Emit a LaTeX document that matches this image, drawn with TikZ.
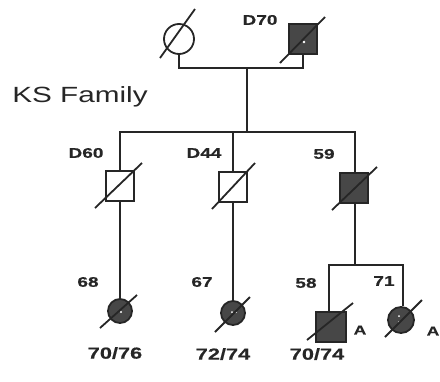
\documentclass[tikz,border=0pt]{standalone}
\usepackage{fontspec}
\newfontfamily\labfont[FakeStretch=1.36,FakeBold=0.5]{Liberation Sans Bold}
\newfontfamily\titlefont[FakeStretch=1.35]{Liberation Sans}
\begin{document}
\begin{tikzpicture}[x=1pt,y=-1pt,
  ln/.style={line width=2pt,black!85},
  sq/.style={draw=black!85,line width=1.8pt,minimum width=28pt,minimum height=30pt,inner sep=0pt,fill=white},
  ci/.style={draw=black!85,line width=1.8pt,circle,minimum size=26pt,inner sep=0pt,fill=white},
  aff/.style={fill=black!72},
  lab/.style={font=\labfont\fontsize{14}{14}\selectfont,inner sep=0pt,text=black!85},
  gen/.style={font=\labfont\fontsize{16}{16}\selectfont,inner sep=0pt,text=black!85},
  dec/.style={line width=1.8pt,black!85}]
\useasboundingbox (0,0) rectangle (440,381);
\node[font=\titlefont\fontsize{22}{22}\selectfont,text=black!85,inner sep=0pt] (title) at (80,97) {KS Family};
% generation I
\node[ci,minimum size=30pt] (gm) at (179,39) {};
\node[sq,aff] (gf) at (303,39) {};
\fill[white] (304,42) circle (1.3pt);
\draw[dec] (160,58) -- (195,9);
\draw[dec] (280,63) -- (325,17);
\node[lab] (lD70) at (260,20) {D70};
\coordinate (mL) at (179,68);
\coordinate (mR) at (303,68);
\coordinate (mC) at (247,68);
\draw[ln] (gm.south) -- (mL) -- (mR) -- (gf.south);
% sibship II
\coordinate (sC) at (247,132);
\coordinate (sL) at (120,132);
\coordinate (sR) at (355,132);
\draw[ln] (mC) -- (sC);
\node[sq] (d60) at (120,186) {};
\node[sq] (d44) at (233,187) {};
\node[sq,aff] (p59) at (354,188) {};
\coordinate (s44) at (233,132);
\draw[ln] (d60.north -| sL) -- (sL) -- (sR) -- (p59.north -| sR);
\draw[ln] (s44) -- (d44.north);
\draw[dec] (95,208) -- (142,163);
\draw[dec] (212,209) -- (255,163);
\draw[dec] (332,210) -- (377,167);
\node[lab] (lD60) at (86,153) {D60};
\node[lab] (lD44) at (204,153) {D44};
\node[lab] (l59) at (324,154) {59};
% generation III
\node[ci,aff,minimum size=24pt] (c68) at (120,311) {};
\node[ci,aff,minimum size=24pt] (c67) at (233,313) {};
\node[sq,aff,minimum width=30pt,minimum height=30pt] (p58) at (331,327) {};
\node[ci,aff,minimum size=26pt] (c71) at (401,320) {};
\fill[white] (121,312) circle (1.1pt);
\fill[white] (232,312) circle (1pt) (236,312) circle (1pt);
\fill[white] (399,316) circle (1pt) (399,322) circle (1pt);
\draw[ln] (d60.south) -- (c68.north);
\draw[ln] (d44.south) -- (c67.north);
\coordinate (tC) at (355,265);
\coordinate (tL) at (329,265);
\coordinate (tR) at (403,265);
\draw[ln] (p59.south -| tC) -- (tC);
\draw[ln] (p58.north -| tL) -- (tL) -- (tR) -- (c71.north -| tR);
\draw[dec] (100,328) -- (137,295);
\draw[dec] (215,332) -- (250,297);
\draw[dec] (307,340) -- (353,303);
\draw[dec] (385,337) -- (422,300);
\node[lab] (l68) at (88,282) {68};
\node[lab] (l67) at (202,282) {67};
\node[lab] (l58) at (306,283) {58};
\node[lab] (l71) at (384,281) {71};
\node[lab,font=\labfont\fontsize{13}{13}\selectfont] (a58) at (360,330) {A};
\node[lab,font=\labfont\fontsize{13}{13}\selectfont] (a71) at (433,331) {A};
\node[gen] (g68) at (115,353) {70/76};
\node[gen] (g67) at (223,354) {72/74};
\node[gen] (g58) at (317,354) {70/74};
\end{tikzpicture}
\end{document}
